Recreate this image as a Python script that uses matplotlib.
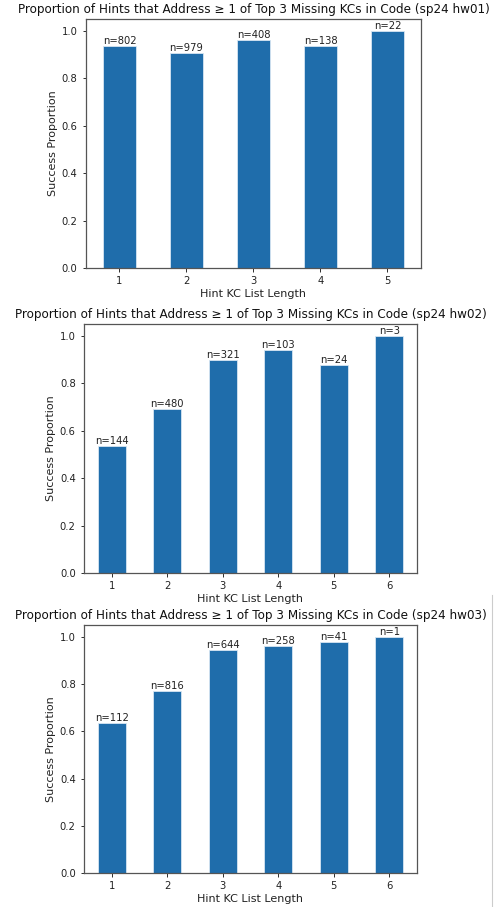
import matplotlib
matplotlib.use("Agg")
import matplotlib.pyplot as plt
from matplotlib.lines import Line2D

# hint KC list lengths per homework
lengths_hw01 = [1, 2, 3, 4, 5]
lengths_hw02 = [1, 2, 3, 4, 5, 6]
lengths_hw03 = [1, 2, 3, 4, 5, 6]

# success proportions
success_hw01 = [0.935, 0.907, 0.961, 0.935, 1.0]
success_hw02 = [0.535, 0.690, 0.900, 0.942, 0.875, 1.0]
success_hw03 = [0.634, 0.771, 0.943, 0.963, 0.976, 1.0]

# number of hints in each group
counts_hw01 = [802, 979, 408, 138, 22]
counts_hw02 = [144, 480, 321, 103, 24, 3]
counts_hw03 = [112, 816, 644, 258, 41, 1]

hw_names = ["sp24 hw01", "sp24 hw02", "sp24 hw03"]

s = 0.72  # screenshot was scaled down
fig = plt.figure(figsize=(4.97, 9.07), dpi=100)
boxes = [
    [0.173, 0.7045, 0.674, 0.2745],
    [0.169, 0.3683, 0.670, 0.2745],
    [0.169, 0.0375, 0.670, 0.2734],
]
panels = [
    (lengths_hw01, success_hw01, counts_hw01),
    (lengths_hw02, success_hw02, counts_hw02),
    (lengths_hw03, success_hw03, counts_hw03),
]

for box, (lens, vals, ns), name in zip(boxes, panels, hw_names):
    ax = fig.add_axes(box)
    pos = list(range(len(lens)))
    bars = ax.bar(pos, vals, width=0.5, color="#1f6dab", edgecolor="#d6e6f3", linewidth=0.6)
    ax.set_xlim(-0.5, len(lens) - 0.5)
    ax.set_ylim(0, 1.05)
    ax.set_xticks(pos)
    ax.set_xticklabels([str(l) for l in lens])
    ax.bar_label(bars, labels=[f"n={n}" for n in ns], fontsize=10 * s, padding=0, color="#222222")
    ax.tick_params(labelsize=10 * s, length=3.5 * s, width=0.8 * s, labelcolor="#222222")
    ax.set_xlabel("Hint KC List Length", fontsize=8, labelpad=2, color="#222222")
    ax.set_ylabel("Success Proportion", fontsize=8, labelpad=3, color="#222222")
    ax.set_title(f"Proportion of Hints that Address \u2265 1 of Top 3 Missing KCs in Code ({name})",
                 fontsize=12 * s, pad=4, color="#111111")
    for sp in ax.spines.values():
        sp.set_linewidth(0.9)
        sp.set_color("#555555")

# thin grey edge seen at the right of the screenshot
fig.add_artist(Line2D([492 / 497, 492 / 497], [0, 1 - 595 / 907], color="#cccccc", linewidth=0.8))

plt.savefig("out.png", dpi=100)
